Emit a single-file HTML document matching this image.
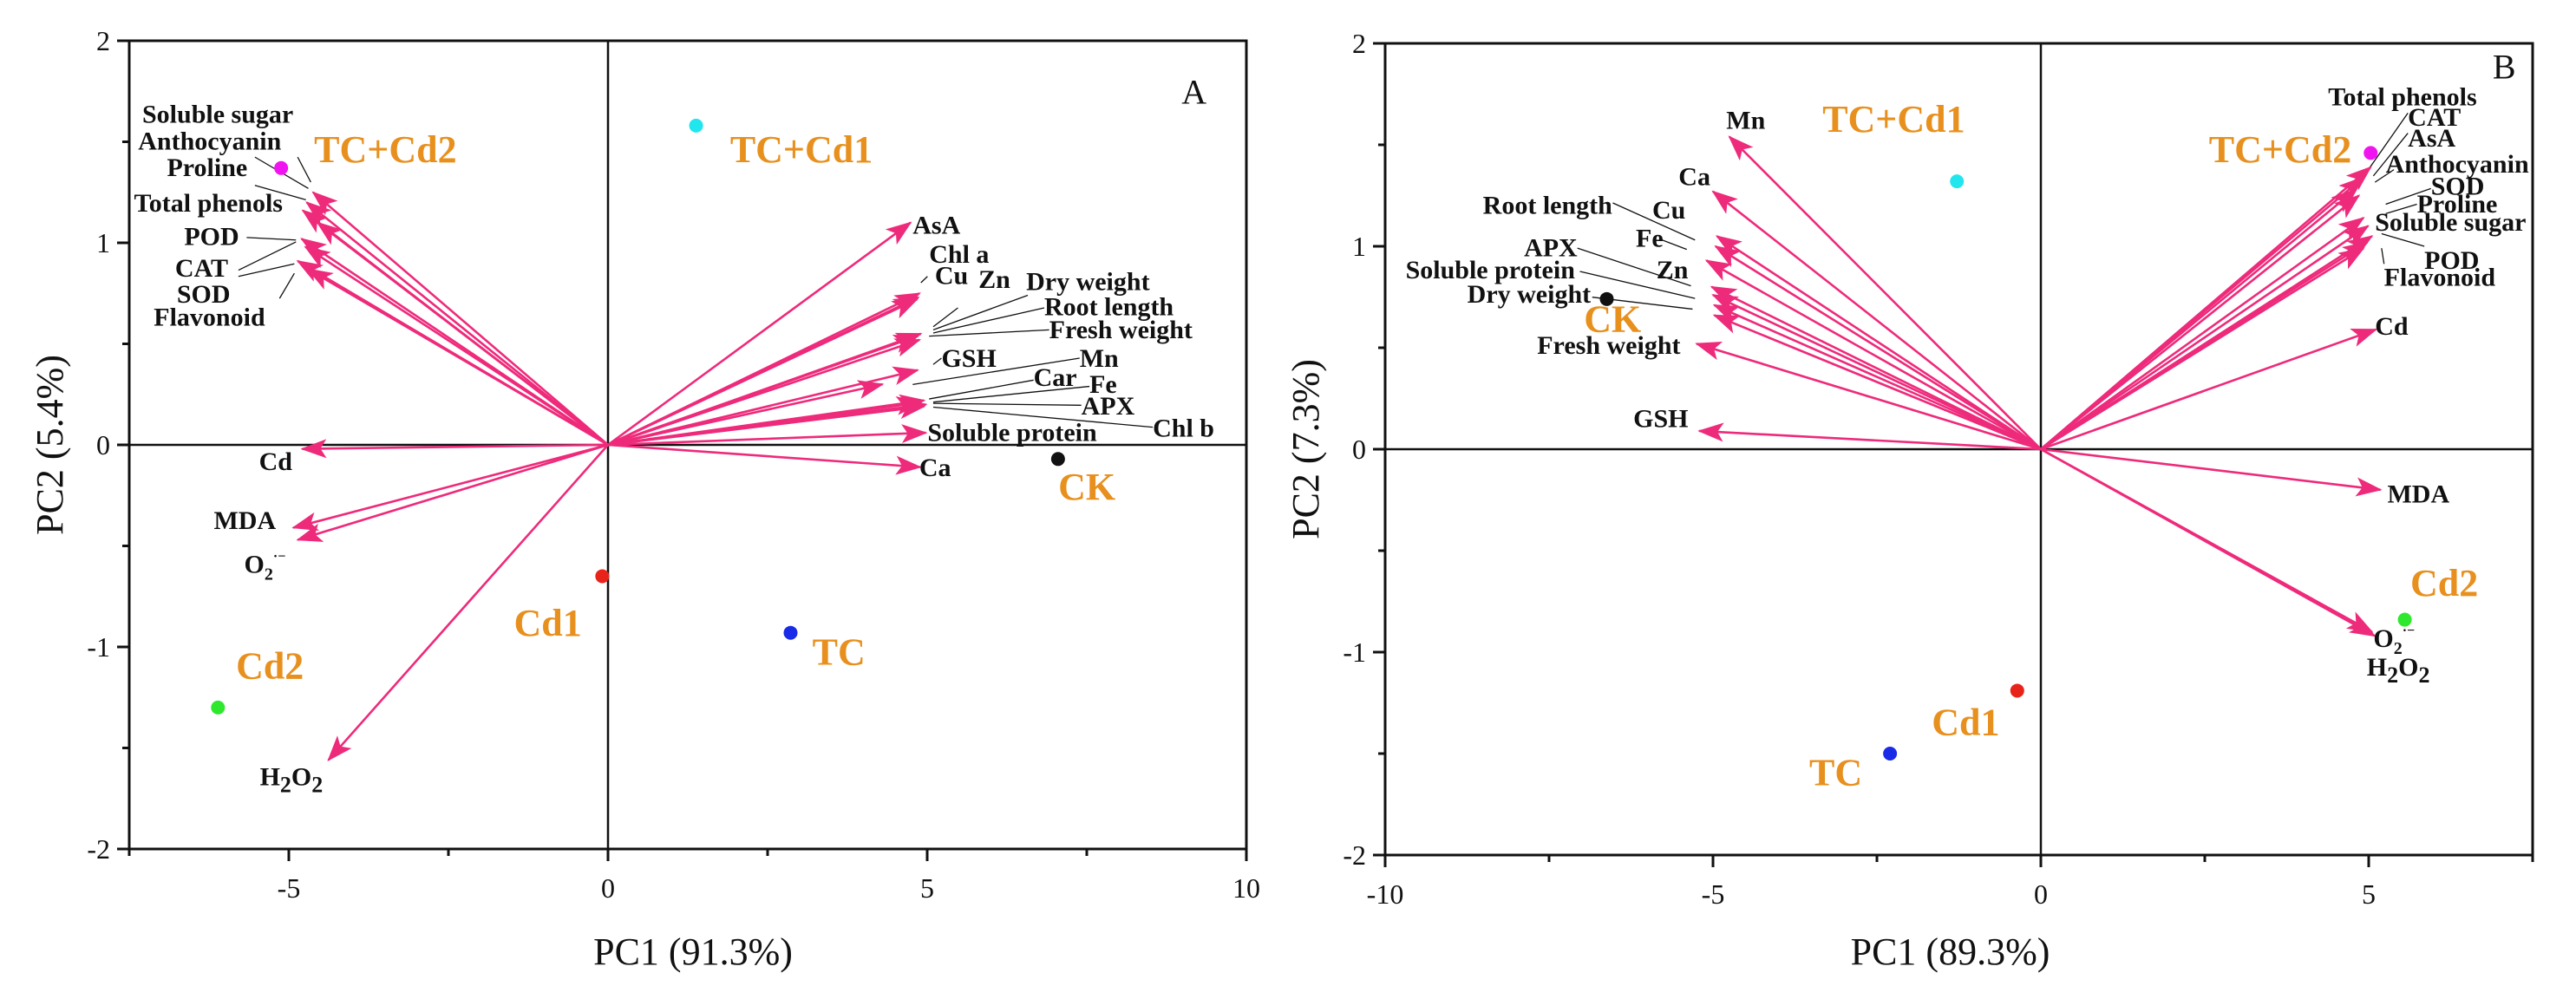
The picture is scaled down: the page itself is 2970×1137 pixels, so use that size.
<!DOCTYPE html>
<html><head><meta charset="utf-8"><style>
html,body{margin:0;padding:0;background:#fff;}
svg{display:block;font-family:"Liberation Serif","DejaVu Serif",serif;}
text{font-family:"Liberation Serif","DejaVu Serif",serif;}
.vl{font-family:"Liberation Serif","DejaVu Serif",serif;font-weight:bold;font-size:30px;fill:#111;}
.gl{font-family:"Liberation Serif","DejaVu Serif",serif;font-weight:bold;font-size:44px;fill:#E8901E;}
.tk{font-family:"Liberation Serif","DejaVu Serif",serif;font-size:32px;fill:#111;}
.at{font-family:"Liberation Serif","DejaVu Serif",serif;font-size:44px;fill:#111;}
</style></head><body>
<svg id="chart" width="2970" height="1137" viewBox="0 0 2970 1137" xmlns="http://www.w3.org/2000/svg" font-family="Liberation Serif, serif">
<defs>
<marker id="ah" viewBox="0 0 30 22" refX="28" refY="11" markerWidth="30" markerHeight="22" markerUnits="userSpaceOnUse" orient="auto">
<path d="M0,0 L30,11 L0,22 L7,11 Z" fill="#EE2A7B"/>
</marker>
</defs>
</svg>
<script>
// ---------- Panel A data ----------
const aVarNames=["Soluble sugar","Anthocyanin","Proline","Total phenols","POD","CAT","SOD","Flavonoid","AsA","Chl a","Cu","Zn","Dry weight","Root length","Fresh weight","GSH","Mn","Car","Fe","APX","Chl b","Soluble protein","Ca","Cd","MDA","O2","H2O2"];
const aVarPC1=[-4.62,-4.72,-4.78,-4.55,-4.8,-4.74,-4.86,-4.7,4.74,4.88,4.86,4.84,4.9,4.86,4.88,4.85,4.95,4.3,4.9,4.98,4.95,4.98,4.89,-4.79,-4.93,-4.86,-4.38];
const aVarPC2=[1.25,1.2,1.16,1.1,1.02,0.98,0.91,0.87,1.1,0.75,0.73,0.72,0.55,0.54,0.52,0.37,0.22,0.3,0.21,0.2,0.19,0.06,-0.11,-0.02,-0.41,-0.47,-1.56];
const aGroupNames=["TC+Cd1","TC+Cd2","CK","Cd1","TC","Cd2"];
const aGroupPC1=[1.38,-5.12,7.05,-0.09,2.86,-6.11];
const aGroupPC2=[1.58,1.37,-0.07,-0.65,-0.93,-1.30];
const aXTicks=[-5,0,5,10];
const aYTicks=[-2,-1,0,1,2];
// ---------- Panel B data ----------
const bVarNames=["Mn","Ca","Cu","Root length","Fe","APX","Soluble protein","Zn","Dry weight","Fresh weight","GSH","Total phenols","CAT","AsA","Anthocyanin","SOD","Proline","Soluble sugar","POD","Flavonoid","Cd","MDA","O2","H2O2"];
const bVarPC1=[-4.75,-5.0,-4.94,-4.96,-5.1,-5.02,-5.0,-4.98,-4.98,-5.25,-5.21,5.03,4.92,4.8,4.85,4.92,4.99,5.05,4.98,4.92,5.11,5.18,5.05,5.09];
const bVarPC2=[1.54,1.27,1.05,1.0,0.93,0.8,0.76,0.71,0.66,0.52,0.09,1.39,1.34,1.28,1.25,1.14,1.1,1.05,1.02,0.99,0.59,-0.2,-0.9,-0.92];
const bGroupNames=["TC+Cd1","TC+Cd2","CK","Cd2","Cd1","TC"];
const bGroupPC1=[-1.28,5.03,-6.62,5.55,-0.36,-2.3];
const bGroupPC2=[1.32,1.46,0.74,-0.84,-1.19,-1.50];
const bXTicks=[-10,-5,0,5];
const bYTicks=[-2,-1,0,1,2];
const groupColors={"TC+Cd1":"#22E6EE","TC+Cd2":"#F015F0","CK":"#111111","Cd1":"#E8231A","TC":"#1A2BE8","Cd2":"#2EE82E"};

const NS="http://www.w3.org/2000/svg";
const svg=document.getElementById('chart');
function mk(tag,attrs,parent){const e=document.createElementNS(NS,tag);for(const k in attrs)e.setAttribute(k,attrs[k]);(parent||svg).appendChild(e);return e;}
const FF='Liberation Serif, DejaVu Serif, serif';

function panel(cfg){
  const g=mk('g',{'font-family':FF});
  
  
  const sx=v=>cfg.left+(v-cfg.xmin)/(cfg.xmax-cfg.xmin)*(cfg.right-cfg.left);
  const sy=v=>cfg.bottom-(v-cfg.ymin)/(cfg.ymax-cfg.ymin)*(cfg.bottom-cfg.top);
  const zx=cfg.zx, zy=cfg.zy;
  const fr=mk('rect',{x:cfg.left,y:cfg.top,width:cfg.right-cfg.left,height:cfg.bottom-cfg.top,fill:'none',stroke:'#111','stroke-width':3},g);
  
  
  const zh=mk('line',{x1:cfg.left,x2:cfg.right,y1:sy(0),y2:sy(0),stroke:'#111','stroke-width':2.5},g);
  
  
  const zv=mk('line',{x1:sx(0),x2:sx(0),y1:cfg.top,y2:cfg.bottom,stroke:'#111','stroke-width':2.5},g);
  
  
  for(let v=cfg.xmin;v<=cfg.xmax+1e-9;v+=2.5){
    const major=Math.abs(v/5-Math.round(v/5))<1e-9;
    const t=mk('line',{x1:sx(v),x2:sx(v),y1:cfg.bottom,y2:cfg.bottom+(major?14:8),stroke:'#111','stroke-width':3},g);
    
    
  }
  cfg.xticks.forEach(v=>{
    const t=mk('text',{x:sx(v),y:cfg.bottom+56,'text-anchor':'middle',class:'tk','font-family':FF},g);t.textContent=v;
    
    
  });
  for(let v=cfg.ymin;v<=cfg.ymax+1e-9;v+=0.5){
    const major=Math.abs(v-Math.round(v))<1e-9;
    const t=mk('line',{x1:cfg.left-(major?14:8),x2:cfg.left,y1:sy(v),y2:sy(v),stroke:'#111','stroke-width':3},g);
    
    
  }
  cfg.yticks.forEach(v=>{
    const t=mk('text',{x:cfg.left-22,y:sy(v)+11,'text-anchor':'end',class:'tk','font-family':FF},g);t.textContent=v;
    
    
  });
  const xt=mk('text',{x:(cfg.left+cfg.right)/2+cfg.xtOff,y:1112,'text-anchor':'middle',class:'at','font-family':FF},g);xt.textContent=cfg.xtitle;
  
  
  const yt=mk('text',{x:0,y:0,'text-anchor':'middle',class:'at','font-family':FF,transform:`translate(${cfg.ytX},${sy(0)}) rotate(-90)`},g);yt.textContent=cfg.ytitle;
  
  
  const pl=mk('text',{x:zx(cfg.letter[1]),y:zy(cfg.letter[2]),style:'font-size:40px','font-family':FF,fill:'#111'},g);pl.textContent=cfg.letter[0];
  
  
  cfg.leaders.forEach(L=>{
    const l=mk('line',{x1:zx(L[0]),y1:zy(L[1]),x2:zx(L[2]),y2:zy(L[3]),stroke:'#111','stroke-width':1.3},g);
    
    
  });
  cfg.vn.forEach((n,i)=>{
    const a=mk('line',{x1:sx(0),y1:sy(0),x2:sx(cfg.v1[i]),y2:sy(cfg.v2[i]),stroke:'#EE2A7B','stroke-width':2.6,'marker-end':'url(#ah)'},g);
    
    
  });
  cfg.vlabels.forEach(L=>{
    const t=mk('text',{x:zx(L[1]),y:zy(L[2]),class:'vl','font-family':FF,'font-weight':'bold'},g);
    if(L[0]==='O2'){t.innerHTML='O<tspan dy="8" font-size="20">2</tspan><tspan dy="-22" font-size="16">·−</tspan>';}
    else if(L[0]==='H2O2'){t.innerHTML='H<tspan dy="8" font-size="26">2</tspan><tspan dy="-8">O</tspan><tspan dy="8" font-size="26">2</tspan>';}
    else t.textContent=L[0];
    
    
  });
  cfg.gn.forEach((n,i)=>{
    const c=mk('circle',{cx:sx(cfg.g1[i]),cy:sy(cfg.g2[i]),r:8,fill:groupColors[n]},g);
    
    
  });
  cfg.glabels.forEach(L=>{
    const t=mk('text',{x:zx(L[1]),y:zy(L[2]),class:'gl','font-family':FF,'font-weight':'bold'},g);t.textContent=L[0];
    
    
  });
}

panel({name:'panel-a',left:149,right:1437,top:47,bottom:979,xmin:-7.5,xmax:10,ymin:-2,ymax:2,
  xticks:aXTicks,yticks:aYTicks,xtitle:'PC1 (91.3%)',ytitle:'PC2 (5.4%)',xtOff:6,ytX:72,
  zx:z=>z*0.948,zy:z=>z*0.7245,letter:['A',1437,165],
  vn:aVarNames,v1:aVarPC1,v2:aVarPC2,gn:aGroupNames,g1:aGroupPC1,g2:aGroupPC2,
  vlabels:[['Soluble sugar',173,195],['Anthocyanin',168,238],['Proline',203,280],['Total phenols',163,337],['POD',224,390],['CAT',213,440],['SOD',215,482],['Flavonoid',187,518],
   ['AsA',1110,372],['Chl a',1130,418],['Cu',1137,452],['Zn',1190,458],['Dry weight',1248,462],['Root length',1270,502],['Fresh weight',1276,538],['GSH',1145,584],['Mn',1313,584],['Car',1257,614],['Fe',1325,625],['APX',1315,660],['Chl b',1402,695],['Soluble protein',1128,702],['Ca',1118,758],['Cd',315,748],['MDA',260,842],['O2',297,912],['H2O2',316,1250]],
  glabels:[['TC+Cd2',382,258],['TC+Cd1',888,258],['CK',1287,795],['Cd1',625,1012],['TC',988,1058],['Cd2',287,1080]],
  leaders:[[310,250,375,300],[310,295,372,318],[362,250,378,290],[300,378,360,382],[290,430,360,385],[290,440,358,420],[340,475,358,435],[1120,450,1128,440],[1135,520,1165,490],[1135,525,1250,470],[1135,530,1270,490],[1130,535,1276,525],[1135,580,1145,570],[1110,612,1313,570],[1130,635,1257,605],[1135,640,1325,615],[1135,642,1315,645],[1135,648,1402,680]]
});
panel({name:'panel-b',left:1597,right:2920,top:50,bottom:986,xmin:-10,xmax:7.5,ymin:-2,ymax:2,
  xticks:bXTicks,yticks:bYTicks,xtitle:'PC1 (89.3%)',ytitle:'PC2 (7.3%)',xtOff:-10,ytX:1520,
  zx:z=>1485+z*0.948,zy:z=>z*0.7245,letter:['B',1465,125],
  vn:bVarNames,v1:bVarPC1,v2:bVarPC2,gn:bGroupNames,g1:bGroupPC1,g2:bGroupPC2,
  vlabels:[['Total phenols',1265,168],['CAT',1362,200],['AsA',1362,233],['Anthocyanin',1335,275],['SOD',1390,310],['Proline',1373,338],['Soluble sugar',1322,367],['POD',1382,428],['Flavonoid',1333,455],['Cd',1322,533],['MDA',1337,800],['O2',1320,1030],['H2O2',1312,1075],
   ['Mn',533,205],['Ca',475,295],['Root length',237,340],['Cu',443,348],['Fe',423,393],['APX',287,408],['Zn',448,443],['Soluble protein',143,443],['Dry weight',218,482],['Fresh weight',303,563],['GSH',420,680]],
  glabels:[['TC+Cd1',650,210],['TC+Cd2',1120,258],['CK',360,528],['Cd2',1365,948],['Cd1',783,1170],['TC',634,1250]],
  leaders:[[1315,268,1362,180],[1320,280,1362,212],[1322,290,1345,270],[1335,325,1390,300],[1335,340,1373,325],[1330,372,1382,392],[1330,395,1333,420],[395,323,495,382],[455,382,485,397],[352,395,490,455],[355,432,495,475],[370,473,492,492]]
});
</script>
</body></html>
